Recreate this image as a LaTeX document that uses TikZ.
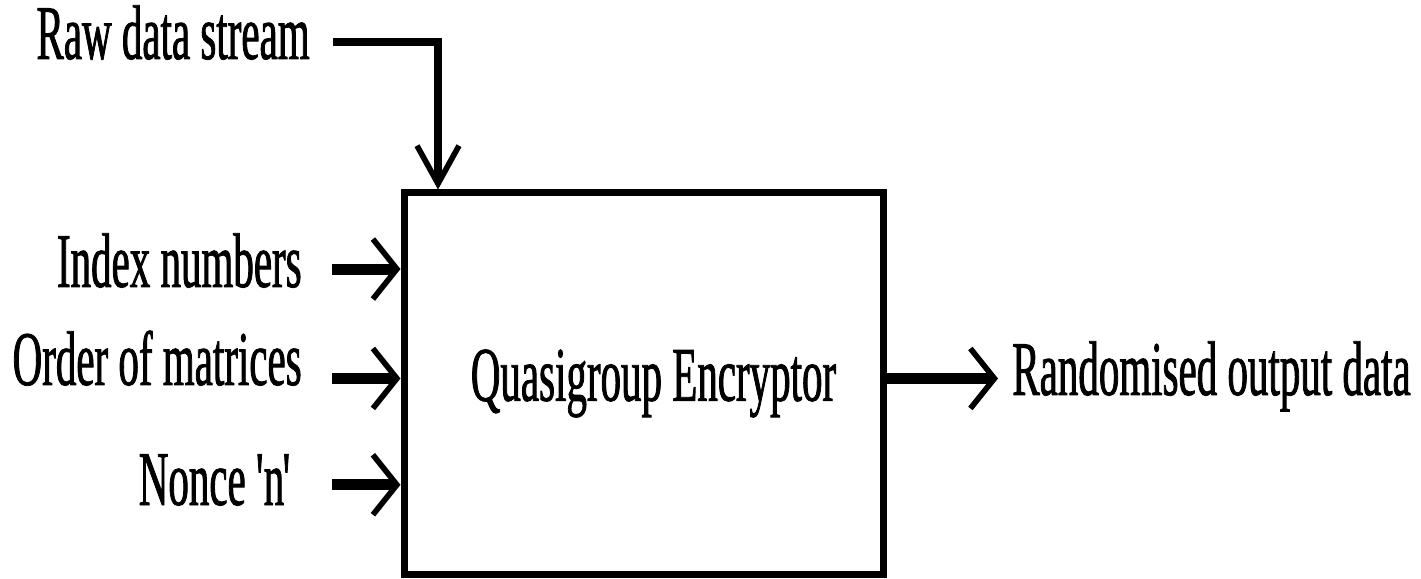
\documentclass[tikz,border=0pt]{standalone}
\usepackage{fontspec}
\setmainfont{Liberation Serif}[FakeStretch=0.53,FakeBold=1]
\usetikzlibrary{arrows.meta,positioning,calc}

\begin{document}
\begin{tikzpicture}[font=\fontsize{44}{50}\selectfont, every node/.style={inner sep=0pt},
  hline/.style={-{Straight Barb[length=4.8mm,width=12mm,line width=3.2pt 0]}, line width=2.2mm},
  vline/.style={-{Straight Barb[length=7.6mm,width=8.4mm,line width=3.2pt 0]}, line width=1.6mm}]

% styles
\tikzset{
  block/.style={rectangle, draw=black, line width=1.4mm, minimum width=95.8mm, minimum height=76.2mm, inner sep=0pt},
  inlabel/.style={anchor=base east},
  outlabel/.style={anchor=base west}
}

\useasboundingbox (0,0) rectangle (28.42,-11.58);

\node[block] (Q) at (12.87,-7.67) {\hspace*{4mm}Quasigroup Encryptor};

% labels on the left
\node[inlabel] (R) at (6.20,-1.18) {Raw data stream};
\node[inlabel] (I) at (6.04,-5.74) {Index numbers};
\node[inlabel] (O) at (6.04,-7.70) {Order of matrices};
\node[inlabel] (N) at (5.94,-10.10) {Nonce \textquotesingle\kern-0.08em n\kern-0.02em\textquotesingle};

% label on the right
\node[outlabel] (D) at (20.24,-7.90) {Randomised output data};

% points where the lines meet the box
\coordinate (Rturn) at (8.76,-0.84);
\coordinate (Iin) at ($(Q.north west)!0.205!(Q.south west)$);
\coordinate (Oin) at ($(Q.north west)!0.487!(Q.south west)$);
\coordinate (Nin) at ($(Q.north west)!0.761!(Q.south west)$);
\coordinate (Dout) at ($(Q.north east)!0.487!(Q.south east)$);

\draw[vline, shorten <=4.6mm] (R.east |- Rturn) -- (Rturn) -- (Rturn |- Q.north);
\draw[hline, shorten <=6mm] (I.east |- Iin) -- (Iin);
\draw[hline, shorten <=6mm] (O.east |- Oin) -- (Oin);
\draw[hline, shorten <=7mm] (N.east |- Nin) -- (Nin);
\draw[hline, shorten >=2.8mm] (Dout) -- (Dout -| D.west);

\end{tikzpicture}
\end{document}
